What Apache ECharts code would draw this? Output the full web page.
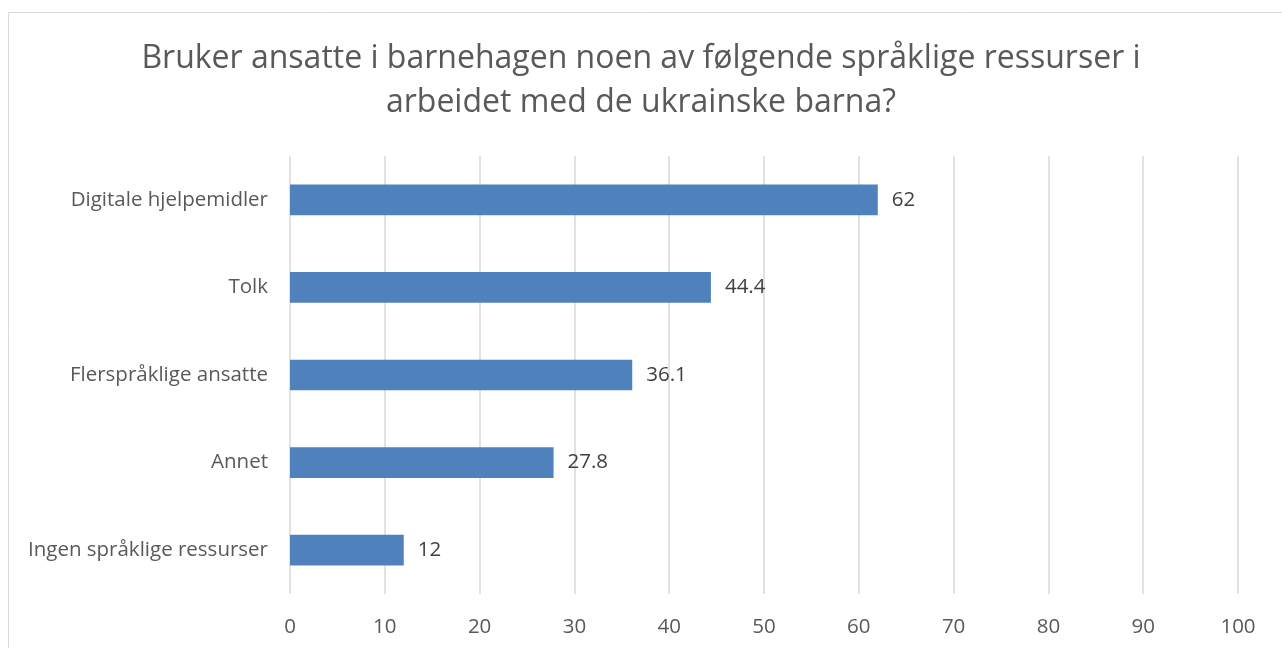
<!DOCTYPE html>
<html><head><meta charset="utf-8">
<script src="https://cdn.jsdelivr.net/npm/echarts@6/dist/echarts.min.js"></script>
<style>html,body{margin:0;padding:0;background:#fff;}#c{width:1282px;height:648px;}</style>
</head><body><div id="c"></div>
<script>
const categories = ["Digitale hjelpemidler","Tolk","Flerspråklige ansatte","Annet","Ingen språklige ressurser"];
const values = [62, 44.4, 36.1, 27.8, 12];
const xTicks = [0,10,20,30,40,50,60,70,80,90,100];
const titleText = "Bruker ansatte i barnehagen noen av følgende språklige ressurser i\narbeidet med de ukrainske barna?";
const font = "'Open Sans', sans-serif";
const chart = echarts.init(document.getElementById('c'));
chart.setOption({
  animation:false,
  graphic:[{type:'rect',shape:{x:8.5,y:12.5,width:1300,height:700},style:{fill:'none',stroke:'#d9d9d9',lineWidth:1},silent:true}],
  title:{text:titleText,left:'center',top:32,textStyle:{fontFamily:font,fontSize:32,fontWeight:'normal',color:'#595959',lineHeight:44}},
  grid:{left:290,right:44,top:156,bottom:54,containLabel:false},
  xAxis:{type:'value',min:0,max:100,interval:10,
    axisLine:{show:false},axisTick:{show:false},
    axisLabel:{fontFamily:font,fontSize:20.5,color:'#595959',margin:23,formatter:v=>xTicks.includes(v)?String(v):''},
    splitLine:{lineStyle:{color:'#d9d9d9',width:1.5}}},
  yAxis:{type:'category',data:categories,inverse:true,
    axisLine:{show:false},axisTick:{show:false},
    axisLabel:{fontFamily:font,fontSize:20.5,color:'#595959',margin:22}},
  series:[{type:'bar',data:values,barWidth:'35%',itemStyle:{color:'#4F81BD'},
    label:{show:true,position:'right',distance:14,fontFamily:font,fontSize:20.5,color:'#404040'}}]
});
</script></body></html>
